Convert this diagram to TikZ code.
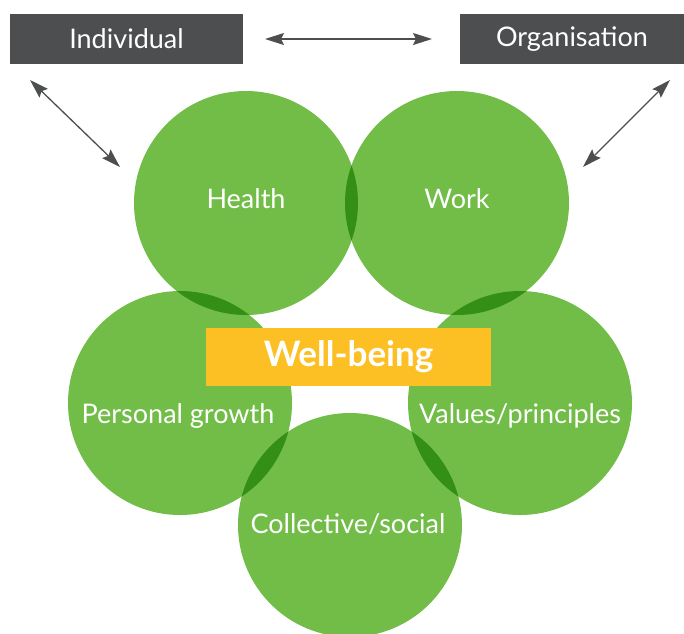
\documentclass[tikz,border=0pt]{standalone}
\usepackage{fontspec}
\setmainfont{Lato}
\usetikzlibrary{arrows.meta}
\definecolor{leaf}{HTML}{71BD48}
\definecolor{leafdark}{HTML}{348F16}
\definecolor{slate}{HTML}{4D4E50}
\definecolor{honey}{HTML}{FCC024}
\tikzset{
  disc/.style={circle,fill=leaf,minimum size=224pt,inner sep=0pt},
  disc text/.style={text=white,font=\fontsize{27}{32}\selectfont},
  label box/.style={fill=slate,text=white,minimum height=50pt,inner sep=0pt,font=\fontsize{27}{32}\selectfont},
  link/.style={draw=slate,line width=1.3pt,{Stealth[length=19pt,width=12pt,inset=3pt]}-{Stealth[length=19pt,width=12pt,inset=3pt]}}
}
\begin{document}
\begin{tikzpicture}[x=1pt,y=-1pt]
    \useasboundingbox (0,0) rectangle (684,633);
    \clip (0,0) rectangle (684,633);
    % circles
    \node[disc] (health) at (246,203) {};
    \node[disc] (work) at (457,203) {};
    \node[disc] (growth) at (180,403) {};
    \node[disc] (values) at (520,403) {};
    \node[disc] (social) at (350,525) {};
    % darker overlaps
    \foreach \a/\b in {health/work,health/growth,work/values,growth/social,values/social} {
      \begin{scope}
        \clip (\a.center) circle (112);
        \fill[leafdark] (\b.center) circle (112);
      \end{scope}
    }
    % labels
    \node[disc text] (healthtxt) at (246,199) {Health};
    \node[disc text] (worktxt) at (457,199) {Work};
    \node[disc text] (growthtxt) at (178,416) {Personal growth};
    \node[disc text] (valuestxt) at (520,416) {Values/principles};
    \node[disc text] (socialtxt) at (348,524) {Collective/social};
    \node[fill=honey,text=white,minimum width=285pt,minimum height=58pt,inner sep=0pt,font=\fontsize{35}{40}\selectfont\bfseries] (wellbeing) at (348.5,357) {\raisebox{-2pt}{Well-being}};
    % top boxes
    \node[label box,minimum width=233pt] (individual) at (126.5,39) {Individual};
    \node[label box,minimum width=224pt] (organisation) at (572,39) {Organisation};
    \coordinate (indR) at (265,39);
    \coordinate (orgL) at (432,39);
    \coordinate (indD) at (30,80);
    \coordinate (healthT) at (120,167);
    \coordinate (orgD) at (670,80);
    \coordinate (workT) at (583,167);
    \draw[link] (indR) -- (orgL);
    \draw[link] (indD) -- (healthT);
    \draw[link] (orgD) -- (workT);
\end{tikzpicture}
\end{document}
